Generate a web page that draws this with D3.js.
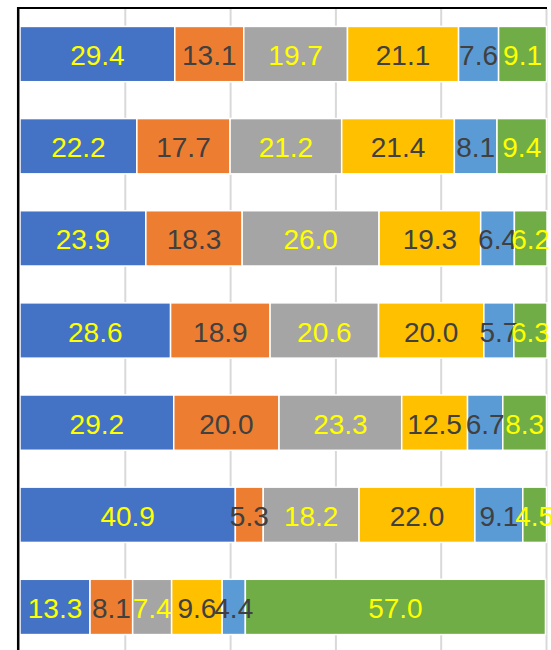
<!DOCTYPE html>
<html>
<head>
<meta charset="utf-8">
<script src="https://cdn.jsdelivr.net/npm/d3@7"></script>
<style>
  html, body { margin: 0; padding: 0; background: #fff; }
  svg { display: block; }
</style>
</head>
<body>
<svg id="chart" width="551" height="650"></svg>
<script>
// Row categories (top to bottom)
const categories = ["1", "2", "3", "4", "5", "6", "7"];

// One array per stacked series, values per row
const seriesA = [29.4, 22.2, 23.9, 28.6, 29.2, 40.9, 13.3];
const seriesB = [13.1, 17.7, 18.3, 18.9, 20.0, 5.3, 8.1];
const seriesC = [19.7, 21.2, 26.0, 20.6, 23.3, 18.2, 7.4];
const seriesD = [21.1, 21.4, 19.3, 20.0, 12.5, 22.0, 9.6];
const seriesE = [7.6, 8.1, 6.4, 5.7, 6.7, 9.1, 4.4];
const seriesF = [9.1, 9.4, 6.2, 6.3, 8.3, 4.5, 57.0];

// Value axis gridline ticks
const xTicks = [20, 40, 60, 80, 100];

const seriesKeys = ["A", "B", "C", "D", "E", "F"];
const seriesColors = ["#4472C4", "#ED7D31", "#A5A5A5", "#FFC000", "#5B9BD5", "#70AD47"];
const labelColors = ["#FFFF00", "#404040", "#FFFF00", "#404040", "#404040", "#FFFF00"];

const table = categories.map((c, i) => ({
  cat: c,
  A: seriesA[i], B: seriesB[i], C: seriesC[i],
  D: seriesD[i], E: seriesE[i], F: seriesF[i]
}));

const svg = d3.select("#chart");

const x = d3.scaleLinear().domain([0, 100]).range([20, 546.5]);
const y = d3.scaleBand().domain(categories).range([8, 653])
  .paddingInner(0.4).paddingOuter(0.2);

// Vertical gridlines
svg.append("g")
  .selectAll("line")
  .data(xTicks)
  .join("line")
  .attr("x1", d => x(d)).attr("x2", d => x(d))
  .attr("y1", 9).attr("y2", 650)
  .attr("stroke", "#D9D9D9")
  .attr("stroke-width", 2);

const stacked = d3.stack().keys(seriesKeys)(table);

// Bar segments
const layers = svg.append("g")
  .selectAll("g")
  .data(stacked)
  .join("g")
  .attr("fill", (d, i) => seriesColors[i]);

layers.selectAll("rect")
  .data(d => d)
  .join("rect")
  .attr("x", d => x(d[0]))
  .attr("width", d => x(d[1]) - x(d[0]))
  .attr("y", d => y(d.data.cat))
  .attr("height", y.bandwidth())
  .attr("stroke", "#fff")
  .attr("stroke-width", 1.5);

// Value labels, centred on each segment
const labels = svg.append("g")
  .attr("font-family", "'Liberation Sans', Arial, sans-serif")
  .attr("font-size", 28)
  .attr("text-anchor", "middle");

stacked.forEach((layer, i) => {
  labels.selectAll(null)
    .data(layer)
    .join("text")
    .attr("x", d => (x(d[0]) + x(d[1])) / 2)
    .attr("y", d => y(d.data.cat) + y.bandwidth() / 2 + 11)
    .attr("fill", labelColors[i])
    .text(d => d3.format(".1f")(d.data[layer.key]));
});

// Axis lines: top and left
svg.append("line")
  .attr("x1", 17).attr("x2", 547)
  .attr("y1", 8).attr("y2", 8)
  .attr("stroke", "#000").attr("stroke-width", 2);
svg.append("line")
  .attr("x1", 18.2).attr("x2", 18.2)
  .attr("y1", 7).attr("y2", 650)
  .attr("stroke", "#000").attr("stroke-width", 2.5);
</script>
</body>
</html>
